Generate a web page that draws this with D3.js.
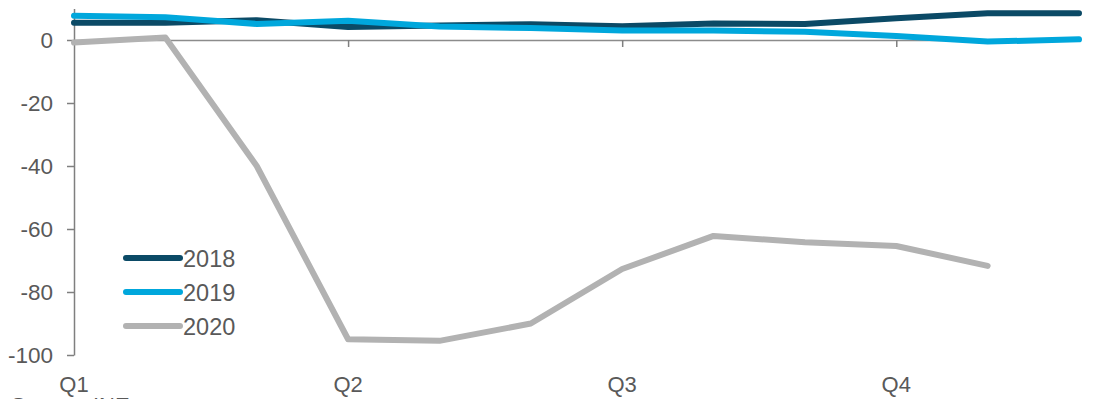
<html>
<head>
  <meta charset="utf-8">
  <script src="https://cdnjs.cloudflare.com/ajax/libs/d3/7.8.5/d3.min.js"></script>
  <style>
    body { margin: 0; background: #fff; }
    text { font-family: "Liberation Sans", Arial, sans-serif; fill: #595959; }
  </style>
</head>
<body>
  <svg id="container" width="1097" height="399"></svg>
<script>
  const months = d3.range(12);
  const quarters = ['Q1', 'Q2', 'Q3', 'Q4'];
  const yTicks = [0, -20, -40, -60, -80, -100];

  const s2018 = [5.5, 5.5, 6.3, 4.1, 4.6, 5.0, 4.4, 5.2, 5.1, 6.9, 8.5, 8.5];
  const s2019 = [7.7, 7.2, 5.1, 6.1, 4.3, 3.8, 3.0, 3.0, 2.6, 1.3, -0.5, 0.2];
  const s2020 = [-0.8, 0.8, -40, -95, -95.5, -90, -72.7, -62.2, -64.2, -65.4, -71.7];

  const series = [
    {name: '2018', values: s2018, color: '#0b4a66'},
    {name: '2019', values: s2019, color: '#00a7dc'},
    {name: '2020', values: s2020, color: '#b2b2b2'}
  ];

  const svg = d3.select('#container');
  const plotLeft = 74, plotRight = 1079, plotTop = 8.5, plotBottom = 355;

  const x = d3.scaleLinear().domain([0, 11]).range([plotLeft, plotRight]);
  const y = d3.scaleLinear().domain([-100, 10]).range([plotBottom, plotTop]);

  // y axis
  const yAxis = svg.append('g')
    .attr('transform', `translate(${plotLeft},0)`)
    .call(d3.axisLeft(y).tickValues(yTicks).tickSize(7).tickPadding(14)
      .tickSizeOuter(0).tickFormat(d => String(d)));
  yAxis.select('.domain').attr('stroke', '#7f7f7f').attr('stroke-width', 1.5);
  yAxis.selectAll('.tick line').attr('stroke', '#7f7f7f').attr('stroke-width', 1.5);
  yAxis.selectAll('.tick text').style('font-size', '22.5px').attr('fill', '#595959');

  // x axis at zero
  const xAxis = svg.append('g')
    .attr('transform', `translate(0,${y(0)})`)
    .call(d3.axisBottom(x).tickValues([3, 6, 9]).tickSize(7).tickFormat('').tickSizeOuter(0));
  xAxis.select('.domain').attr('stroke', '#8c8c8c').attr('stroke-width', 1.5);
  xAxis.selectAll('.tick line').attr('stroke', '#7f7f7f').attr('stroke-width', 1.5);

  // quarter labels
  svg.append('g').selectAll('text')
    .data(quarters)
    .join('text')
    .attr('x', (d, i) => x(i * 3))
    .attr('y', 392)
    .attr('text-anchor', 'middle')
    .style('font-size', '22px')
    .text(d => d);

  const line = d3.line()
    .x((d, i) => x(months[i]))
    .y(d => y(d));

  svg.append('g').selectAll('path')
    .data(series)
    .join('path')
    .attr('d', d => line(d.values))
    .attr('fill', 'none')
    .attr('stroke', d => d.color)
    .attr('stroke-width', 6)
    .attr('stroke-linejoin', 'round')
    .attr('stroke-linecap', 'round');

  // legend
  const legend = svg.append('g').selectAll('g')
    .data(series)
    .join('g')
    .attr('transform', (d, i) => `translate(126,${258 + i * 34})`);
  legend.append('line')
    .attr('x1', 0).attr('x2', 54)
    .attr('stroke', d => d.color)
    .attr('stroke-width', 6)
    .attr('stroke-linecap', 'round');
  legend.append('text')
    .attr('x', 57)
    .attr('y', 8.5)
    .style('font-size', '23.5px')
    .text(d => d.name);

  svg.append('text')
    .attr('x', 11)
    .attr('y', 413)
    .style('font-size', '22px')
    .text('Source: INE');
</script>
</body>
</html>
